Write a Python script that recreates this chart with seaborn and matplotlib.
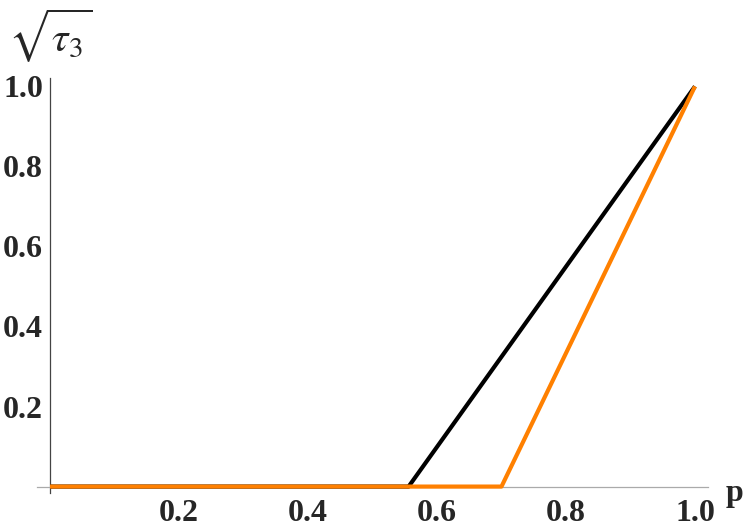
import matplotlib
matplotlib.use('Agg')
import matplotlib.pyplot as plt
from matplotlib.ticker import MultipleLocator
import seaborn as sns
import pandas as pd

# corner points of the two piecewise-linear curves
p_black = [0.0, 0.556, 1.0]
tau_black = [0.0, 0.0, 1.0]
p_orange = [0.0, 0.7, 1.0]
tau_orange = [0.0, 0.0, 1.0]

major_ticks = [0.2, 0.4, 0.6, 0.8, 1.0]

sns.set_style('white')
plt.rcParams['font.family'] = ['Liberation Serif', 'DejaVu Serif']
plt.rcParams['mathtext.fontset'] = 'stix'

fig = plt.figure(figsize=(7.47, 5.29), dpi=100)
ax = fig.add_axes([0.0495, 0.0681, 0.8983, 0.7845])

black_df = pd.DataFrame({'p': p_black, 'tau': tau_black})
orange_df = pd.DataFrame({'p': p_orange, 'tau': tau_orange})
sns.lineplot(data=black_df, x='p', y='tau', color='black', linewidth=3,
             ax=ax, zorder=3, solid_capstyle='butt')
sns.lineplot(data=orange_df, x='p', y='tau', color='#ff8000', linewidth=3,
             ax=ax, zorder=4, solid_capstyle='butt')

ax.set_xlim(-0.0202, 1.0202)
ax.set_ylim(-0.016, 1.021)
ax.set_xlabel('')
ax.set_ylabel('')

# axes crossing at the origin, Mathematica style
for side in ['top', 'right']:
    ax.spines[side].set_visible(False)
ax.spines['left'].set_position(('data', 0))
ax.spines['bottom'].set_position(('data', 0))
ax.spines['left'].set_color('#444444')
ax.spines['bottom'].set_color('#aaaaaa')
ax.spines['left'].set_linewidth(0.9)
ax.spines['bottom'].set_linewidth(0.9)

ax.set_xticks(major_ticks)
ax.set_yticks(major_ticks)
ax.set_xticklabels([f'{t:.1f}' for t in major_ticks])
ax.set_yticklabels([f'{t:.1f}' for t in major_ticks])
ax.xaxis.set_minor_locator(MultipleLocator(0.05))
ax.yaxis.set_minor_locator(MultipleLocator(0.05))

ax.tick_params(axis='both', which='both', direction='in')
ax.tick_params(axis='x', which='major', length=6, width=0.9, color='#aaaaaa',
               pad=9, labelsize=23)
ax.tick_params(axis='x', which='minor', length=3.5, width=0.9, color='#aaaaaa')
ax.tick_params(axis='y', which='major', length=6, width=0.9, color='#444444',
               pad=5, labelsize=23)
ax.tick_params(axis='y', which='minor', length=3.5, width=0.9, color='#444444')
for lbl in ax.get_xticklabels() + ax.get_yticklabels():
    lbl.set_fontweight('bold')

fig.text(734 / 747, 1 - 494 / 529, 'p', fontsize=23, fontweight='bold',
         ha='center', va='center')
fig.text(50 / 747, 1 - 36 / 529, r'$\sqrt{\tau_3}$', fontsize=30,
         ha='center', va='center')

fig.savefig('out.png', dpi=100)
